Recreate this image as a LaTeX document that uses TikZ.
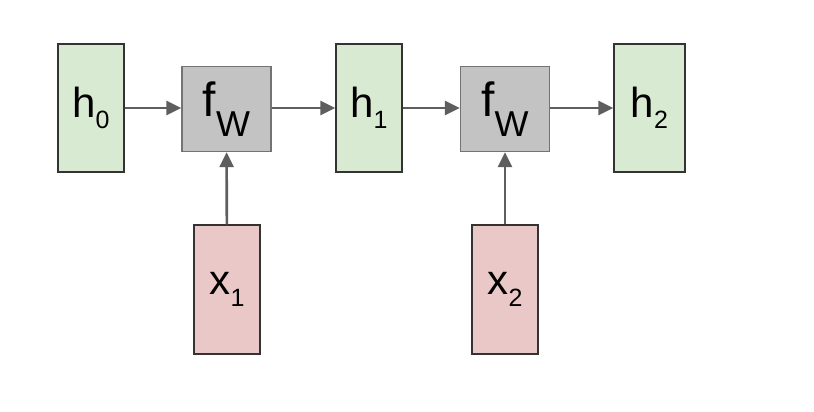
\documentclass[tikz,border=0pt]{standalone}
\usepackage{fontspec}
\setmainfont{Liberation Sans}
\usetikzlibrary{arrows.meta}

\definecolor{stategreen}{HTML}{D9EAD3}
\definecolor{inputred}{HTML}{EBC8C8}
\definecolor{funcgray}{HTML}{C3C3C3}
\definecolor{arrowgray}{HTML}{5E5E5E}

% big letter with a lowered small index
\newcommand{\sublab}[5]{{\fontsize{#1}{#1}\selectfont #2}\raisebox{-#5pt}{\fontsize{#3}{#3}\selectfont #4}}

\begin{document}
\begin{tikzpicture}[x=1pt,y=-1pt,
  state/.style={draw=black!80,line width=1.3pt,fill=stategreen,minimum width=66pt,minimum height=128pt,inner sep=0pt},
  input/.style={draw=black!80,line width=1.3pt,fill=inputred,minimum width=66pt,minimum height=129pt,inner sep=0pt},
  func/.style={draw=black!55,line width=1.3pt,fill=funcgray,minimum width=89pt,minimum height=85pt,inner sep=0pt},
  flow/.style={draw=arrowgray,line width=2.6pt,-{Triangle[length=15pt,width=14pt]}}]
\useasboundingbox[fill=white] (0,0) rectangle (814,412);

\node[state] (h0) at (91,108) {\sublab{42}{h}{25}{0}{11}};
\node[func] (fw1) at (226.5,109) {\sublab{48}{f}{36}{W}{20}};
\node[state] (h1) at (369,108) {\sublab{42}{h}{25}{1}{11}};
\node[func] (fw2) at (505,109) {\sublab{48}{f}{36}{W}{20}};
\node[state,minimum width=71pt] (h2) at (649.5,108) {\sublab{42}{h}{25}{2}{11}};

\node[input] (x1) at (227,289.5) {\sublab{42}{x}{25}{1}{12}};
\node[input] (x2) at (505,289.5) {\sublab{42}{x}{25}{2}{12}};

\draw[flow] (h0.east) -- (h0.east -| fw1.west);
\draw[flow] (fw1.east |- h1.west) -- (h1.west);
\draw[flow] (h1.east) -- (h1.east -| fw2.west);
\draw[flow] (fw2.east |- h2.west) -- (h2.west);
\draw[flow] (x1) -- (fw1);
\draw[flow] (x2) -- (fw2);
\end{tikzpicture}
\end{document}
